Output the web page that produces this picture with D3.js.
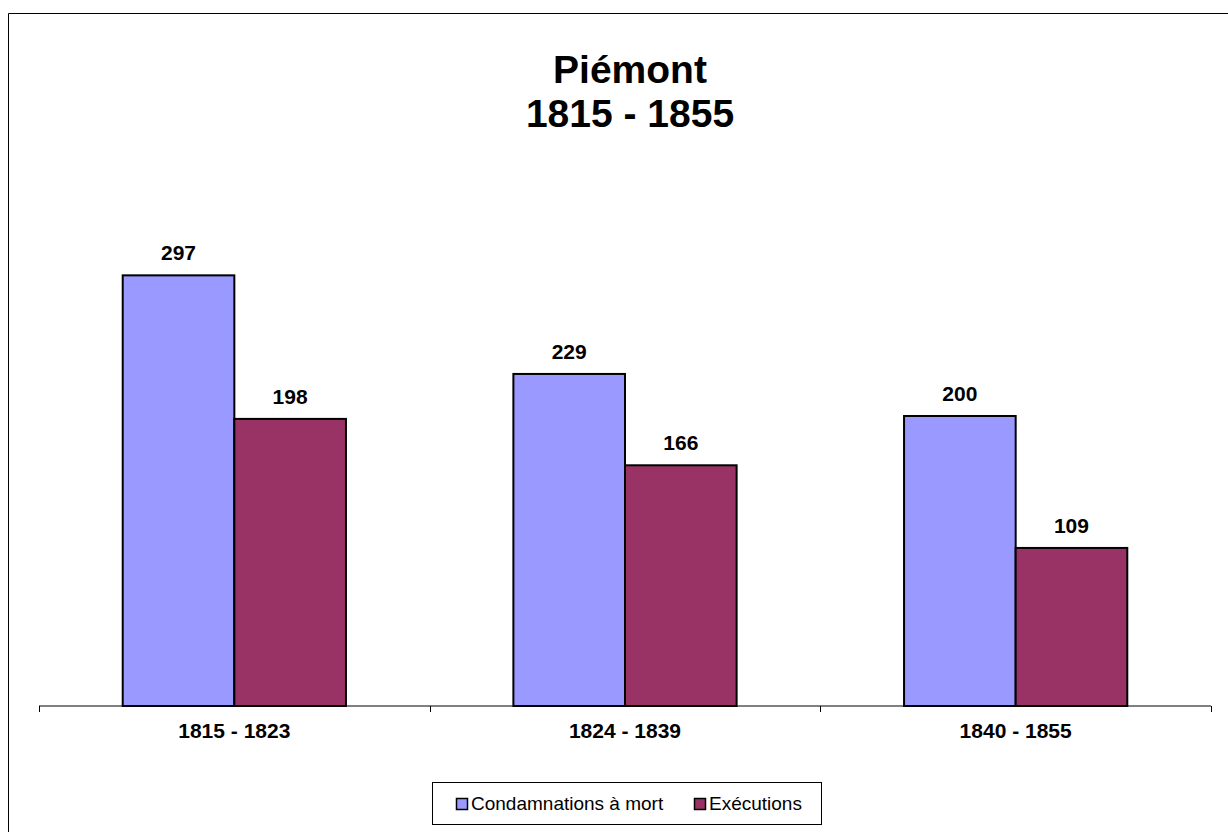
<!DOCTYPE html>
<html>
<head>
<meta charset="utf-8">
<script src="https://cdn.jsdelivr.net/npm/d3@7"></script>
<style>
  body { margin: 0; background: #fff; }
  svg { display: block; font-family: "Liberation Sans", Arial, sans-serif; }
</style>
</head>
<body>
<div id="chart"></div>
<script>
// Piémont death sentences vs executions
const periods = ["1815 - 1823", "1824 - 1839", "1840 - 1855"];
const seriesNames = ["Condamnations à mort", "Exécutions"];
const condamnations = [297, 229, 200];
const executions = [198, 166, 109];
const seriesColors = ["#9999FF", "#993366"];

const width = 1228;
const height = 832;

const svg = d3.select("#chart")
    .append("svg")
    .attr("width", width)
    .attr("height", height);

// chart frame (only top & left edges visible in the screenshot)
svg.append("path")
    .attr("d", `M8.5,${height} V13.5 H${width}`)
    .attr("fill", "none")
    .attr("stroke", "#000")
    .attr("stroke-width", 1);

// title
const title = svg.append("text")
    .attr("text-anchor", "middle")
    .attr("font-size", "39px")
    .attr("font-weight", "bold")
    .attr("fill", "#000");
title.append("tspan").attr("x", 630).attr("y", 83).text("Piémont");
title.append("tspan").attr("x", 630).attr("y", 127).text("1815 - 1855");

const x0 = d3.scaleBand()
    .domain(periods)
    .range([39, 1211])
    .paddingInner(0)
    .paddingOuter(0);

// 150% gap width: bars take 2/3.5 of the category
const barW = x0.bandwidth() / 3.5;

const y = d3.scaleLinear()
    .domain([0, 350])
    .range([706, 198.5]);

const rows = periods.map((p, i) => ({ period: p, values: [condamnations[i], executions[i]] }));

const groups = svg.append("g")
    .selectAll("g")
    .data(rows)
    .join("g")
    .attr("transform", d => `translate(${x0(d.period) + x0.bandwidth() / 2 - barW},0)`);

groups.selectAll("rect")
    .data(d => d.values.map((v, k) => ({ v, k })))
    .join("rect")
    .attr("x", d => d.k * barW)
    .attr("y", d => y(d.v))
    .attr("width", barW)
    .attr("height", d => y(0) - y(d.v))
    .attr("fill", d => seriesColors[d.k])
    .attr("stroke", "#000")
    .attr("stroke-width", 2);

groups.selectAll("text")
    .data(d => d.values.map((v, k) => ({ v, k })))
    .join("text")
    .attr("x", d => d.k * barW + barW / 2)
    .attr("y", d => y(d.v) - 15)
    .attr("text-anchor", "middle")
    .attr("font-size", "21px")
    .attr("font-weight", "bold")
    .text(d => d.v);

// category axis
const xAxis = svg.append("g")
    .attr("transform", `translate(0,${y(0)})`);
xAxis.append("line")
    .attr("x1", 39).attr("x2", 1211)
    .attr("stroke", "#000").attr("stroke-width", 1);
xAxis.selectAll(".tick")
    .data([0, 1, 2, 3])
    .join("line")
    .attr("x1", i => Math.round(39 + i * x0.bandwidth()) + 0.5)
    .attr("x2", i => Math.round(39 + i * x0.bandwidth()) + 0.5)
    .attr("y1", 0).attr("y2", 6)
    .attr("stroke", "#000");
xAxis.selectAll("text")
    .data(periods)
    .join("text")
    .attr("x", d => x0(d) + x0.bandwidth() / 2)
    .attr("y", 32)
    .attr("text-anchor", "middle")
    .attr("font-size", "21px")
    .attr("font-weight", "bold")
    .text(d => d);

// legend
const legend = svg.append("g");
legend.append("rect")
    .attr("x", 432.5).attr("y", 782.5)
    .attr("width", 389).attr("height", 42)
    .attr("fill", "#fff").attr("stroke", "#000");

const legendX = [456, 694];
seriesNames.forEach((name, k) => {
    legend.append("rect")
        .attr("x", legendX[k] + 0.5).attr("y", 798.5)
        .attr("width", 11).attr("height", 11)
        .attr("fill", seriesColors[k])
        .attr("stroke", "#000").attr("stroke-width", 1.5);
    legend.append("text")
        .attr("x", legendX[k] + 15).attr("y", 810)
        .attr("font-size", "19px")
        .text(name);
});
</script>
</body>
</html>
